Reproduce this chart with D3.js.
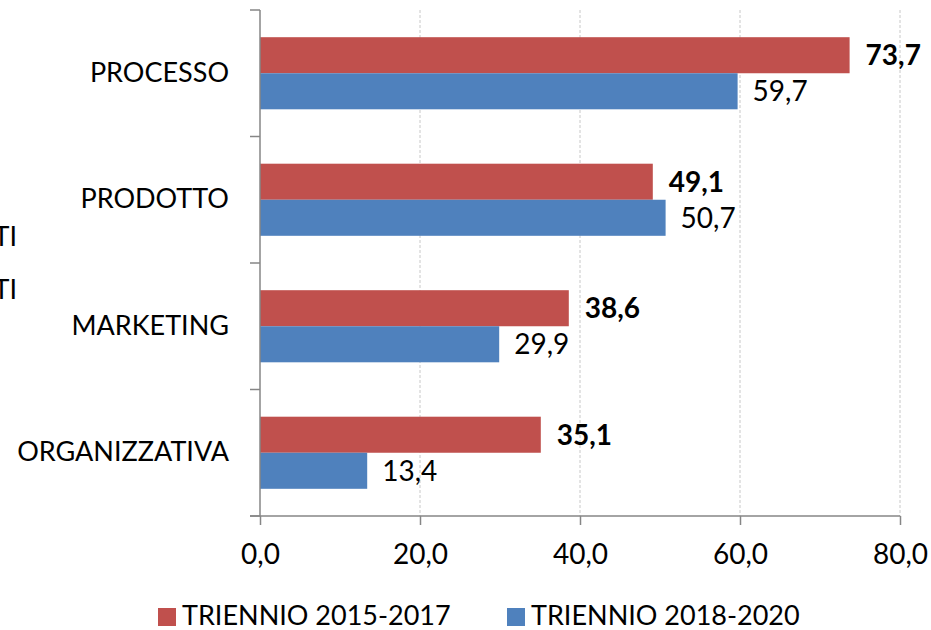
<!DOCTYPE html>
<html>
<head>
<meta charset="utf-8">
<script src="https://cdn.jsdelivr.net/npm/d3@7"></script>
<style>
  html, body { margin: 0; padding: 0; background: #fff; }
  svg { display: block; font-family: Lato, "Open Sans", sans-serif; }
</style>
</head>
<body>
<div id="chart"></div>
<script>
const categories = ["PROCESSO", "PRODOTTO", "MARKETING", "ORGANIZZATIVA"];
const series = ["TRIENNIO 2015-2017", "TRIENNIO 2018-2020"];
const values2015 = [73.7, 49.1, 38.6, 35.1];
const values2018 = [59.7, 50.7, 29.9, 13.4];
const xTicks = [0, 20, 40, 60, 80];
const colors = ["#C0504D", "#4F81BD"];

const W = 931, H = 630;
const m = { top: 10, left: 260, right: 31, bottom: 114 };
const innerW = W - m.left - m.right;
const innerH = H - m.top - m.bottom;

const svg = d3.select("#chart").append("svg")
  .attr("width", W).attr("height", H);

const g = svg.append("g").attr("transform", `translate(${m.left},${m.top})`);

const x = d3.scaleLinear().domain([0, 80]).range([0, innerW]);
const y = d3.scaleBand().domain(categories).range([0, innerH]).paddingInner(0.43).paddingOuter(0.215);
const ySub = d3.scaleBand().domain([0, 1]).range([0, y.bandwidth()]);

// griglia
g.append("g")
  .selectAll("line")
  .data(xTicks.filter(d => d > 0))
  .enter().append("line")
    .attr("x1", d => x(d)).attr("x2", d => x(d))
    .attr("y1", 0).attr("y2", innerH)
    .attr("stroke", "#c8c8c8")
    .attr("stroke-dasharray", "3,2");

// barre
const rows = categories.map((c, i) => ({ c, v: [values2015[i], values2018[i]] }));
const grp = g.selectAll(".cat").data(rows).enter().append("g")
  .attr("transform", d => `translate(0,${y(d.c)})`);

grp.selectAll("rect")
  .data(d => d.v)
  .enter().append("rect")
    .attr("x", 0)
    .attr("y", (d, i) => ySub(i))
    .attr("width", d => x(d))
    .attr("height", ySub.bandwidth())
    .attr("fill", (d, i) => colors[i]);

const fmt = v => d3.format(".1f")(v).replace(".", ",");

grp.selectAll("text.lbl")
  .data(d => d.v)
  .enter().append("text")
    .attr("class", "lbl")
    .attr("x", (d, i) => x(d) + (i === 0 ? 16 : 15))
    .attr("y", (d, i) => ySub(i) + ySub.bandwidth() / 2)
    .attr("dy", "0.35em")
    .attr("font-size", 28)
    .attr("font-weight", (d, i) => i === 0 ? 700 : 400)
    .attr("fill", "#000")
    .text(fmt);

// assi
const axisColor = "#868686";
const yAxis = g.append("g").call(d3.axisLeft(y).tickSize(0).tickPadding(31).tickFormat(d => d));
yAxis.select(".domain").remove();
yAxis.selectAll("text").attr("font-size", 27).attr("fill", "#000").attr("font-family", "Lato, sans-serif");

// linea verticale e tacche fra categorie
g.append("line").attr("x1", 0).attr("x2", 0).attr("y1", 0).attr("y2", innerH)
  .attr("stroke", axisColor).attr("stroke-width", 1.5);
const bounds = d3.range(categories.length + 1).map(i => i * innerH / categories.length);
g.append("g").selectAll("line").data(bounds).enter().append("line")
  .attr("x1", -10).attr("x2", 0).attr("y1", d => d).attr("y2", d => d)
  .attr("stroke", axisColor).attr("stroke-width", 1.5);

const xAxis = g.append("g").attr("transform", `translate(0,${innerH})`)
  .call(d3.axisBottom(x).tickValues(xTicks).tickSize(9).tickPadding(19).tickFormat(fmt));
xAxis.select(".domain").remove();
xAxis.selectAll(".tick line").attr("stroke", axisColor).attr("stroke-width", 1.5);
xAxis.selectAll("text").attr("font-size", 28).attr("fill", "#000").attr("font-family", "Lato, sans-serif");
g.append("line").attr("x1", -10).attr("x2", innerW).attr("y1", innerH).attr("y2", innerH)
  .attr("stroke", axisColor).attr("stroke-width", 1.5);

// testo tagliato a sinistra (come nell'originale)
svg.append("g").selectAll("text").data([237, 290]).enter().append("text")
  .attr("x", 17).attr("y", d => d).attr("dy", "0.35em")
  .attr("text-anchor", "end").attr("font-size", 27).text("TI");

// legenda
const legendX = [158, 507];
const leg = svg.append("g").selectAll("g").data(series).enter().append("g")
  .attr("transform", (d, i) => `translate(${legendX[i]},608)`);
leg.append("rect").attr("width", 18).attr("height", 18).attr("fill", (d, i) => colors[i]);
leg.append("text").attr("x", 24).attr("y", 8).attr("dy", "0.35em")
  .attr("font-size", 27).text(d => d);
</script>
</body>
</html>
